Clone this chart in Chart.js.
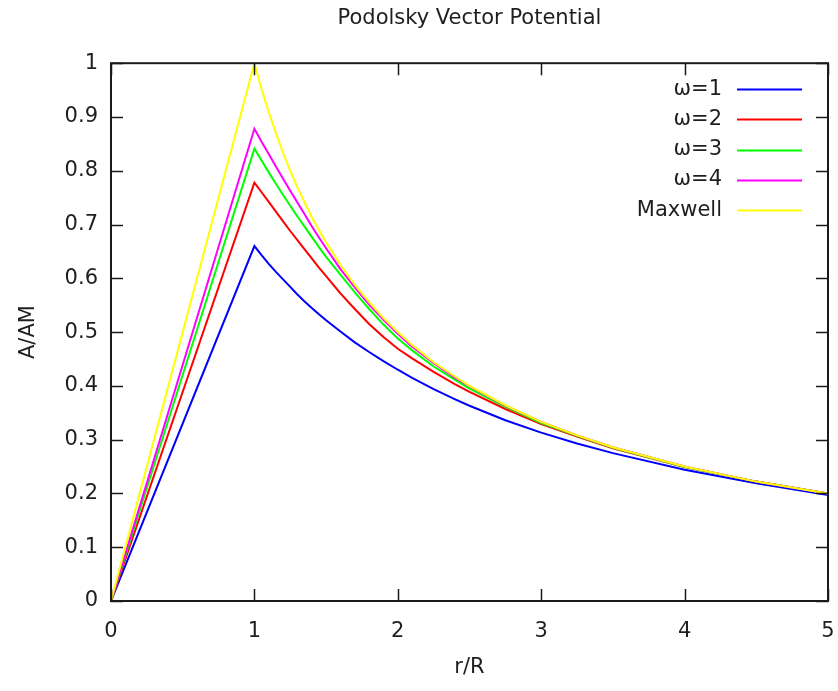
<!DOCTYPE html>
<html><head><meta charset="utf-8">
<script src="https://cdn.jsdelivr.net/npm/chart.js@4.4.1/dist/chart.umd.min.js"></script>
<style>html,body{margin:0;padding:0;background:#fff;} #wrap{width:838px;height:691px;position:relative;}</style>
</head><body><div id="wrap"><canvas id="c" width="838" height="691"></canvas></div>
<script>
// ---- data ----
const chartTitle = 'Podolsky Vector Potential';
const xTitle = 'r/R';
const yTitle = 'A/AM';
const seriesLabels = ['ω=1', 'ω=2', 'ω=3', 'ω=4', 'Maxwell'];
const rValues = [0, 1, 1.05, 1.1, 1.15, 1.2, 1.25, 1.3, 1.35, 1.4, 1.45, 1.5, 1.6, 1.7, 1.8, 1.9, 2.0, 2.1, 2.25, 2.4, 2.5, 2.75, 3, 3.25, 3.5, 4, 4.5, 5];
const omega1  = [0, 0.660, 0.643, 0.627, 0.612, 0.598, 0.584, 0.570, 0.557, 0.545, 0.533, 0.522, 0.501, 0.481, 0.463, 0.446, 0.430, 0.415, 0.394, 0.375, 0.363, 0.336, 0.313, 0.293, 0.275, 0.244, 0.219, 0.197];
const omega2  = [0, 0.778, 0.760, 0.742, 0.724, 0.706, 0.688, 0.671, 0.654, 0.637, 0.620, 0.604, 0.572, 0.543, 0.515, 0.491, 0.469, 0.451, 0.426, 0.403, 0.389, 0.357, 0.329, 0.306, 0.284, 0.249, 0.222, 0.200];
const omega3  = [0, 0.841, 0.819, 0.797, 0.776, 0.755, 0.735, 0.715, 0.696, 0.677, 0.658, 0.640, 0.607, 0.574, 0.543, 0.514, 0.488, 0.466, 0.436, 0.411, 0.395, 0.361, 0.331, 0.307, 0.285, 0.249, 0.222, 0.200];
const omega4  = [0, 0.878, 0.854, 0.831, 0.808, 0.785, 0.763, 0.741, 0.719, 0.697, 0.676, 0.656, 0.617, 0.583, 0.551, 0.523, 0.497, 0.473, 0.442, 0.415, 0.399, 0.363, 0.333, 0.308, 0.286, 0.250, 0.222, 0.200];
const maxwell = [0, 1.000, 0.952, 0.909, 0.870, 0.833, 0.800, 0.769, 0.741, 0.714, 0.690, 0.667, 0.625, 0.588, 0.556, 0.526, 0.500, 0.476, 0.444, 0.417, 0.400, 0.364, 0.333, 0.308, 0.286, 0.250, 0.222, 0.200];
const xTickValues = [0, 1, 2, 3, 4, 5];
const yTickValues = [0, 0.1, 0.2, 0.3, 0.4, 0.5, 0.6, 0.7, 0.8, 0.9, 1];
const yTickLabels = ['0', '0.1', '0.2', '0.3', '0.4', '0.5', '0.6', '0.7', '0.8', '0.9', '1'];
const xTickLabels = ['0', '1', '2', '3', '4', '5'];

// ---- styling ----
const seriesValues = [omega1, omega2, omega3, omega4, maxwell];
const colors = ['#0000ff', '#ff0000', '#00ff00', '#ff00ff', '#ffff00'];
const FONT = 'DejaVu Sans';
const FS = 21;
const TEXT = '#1e1e1e';
Chart.defaults.font.family = FONT;
Chart.defaults.font.size = FS;
Chart.defaults.color = TEXT;

const datasets = seriesValues.map((vals, i) => ({
  label: seriesLabels[i],
  data: rValues.map((r, j) => ({x: r, y: vals[j]})),
  borderColor: colors[i],
  backgroundColor: colors[i],
  borderWidth: 2,
  pointRadius: 0,
  tension: 0,
  fill: false,
  order: seriesValues.length - i
}));

const framePlugin = {
  id: 'frame',
  afterDatasetsDraw(chart) {
    const {ctx, chartArea: a, scales: {x, y}} = chart;
    const tl = 12;
    ctx.save();
    ctx.strokeStyle = '#1a1a1a';
    ctx.lineWidth = 1.5;
    ctx.beginPath();
    xTickValues.forEach(v => {
      const px = Math.round(x.getPixelForValue(v)) + 0.5;
      ctx.moveTo(px, a.bottom); ctx.lineTo(px, a.bottom - tl);
      ctx.moveTo(px, a.top); ctx.lineTo(px, a.top + tl);
    });
    yTickValues.forEach(v => {
      const py = Math.round(y.getPixelForValue(v)) + 0.5;
      ctx.moveTo(a.left, py); ctx.lineTo(a.left + tl, py);
      ctx.moveTo(a.right, py); ctx.lineTo(a.right - tl, py);
    });
    ctx.stroke();
    ctx.lineWidth = 2;
    ctx.strokeRect(a.left, a.top, a.right - a.left, a.bottom - a.top);
    // key (gnuplot style: text then line sample)
    ctx.font = FS + 'px ' + FONT;
    ctx.textAlign = 'right';
    ctx.textBaseline = 'middle';
    chart.data.datasets.forEach((ds, i) => {
      const yy = a.top + 26 + i * 30.25;
      ctx.fillStyle = TEXT;
      ctx.fillText(ds.label, a.right - 106, yy);
      ctx.strokeStyle = ds.borderColor;
      ctx.lineWidth = 2;
      ctx.beginPath();
      ctx.moveTo(a.right - 91, Math.round(yy) + 0.5);
      ctx.lineTo(a.right - 26, Math.round(yy) + 0.5);
      ctx.stroke();
    });
    ctx.restore();
  }
};

new Chart(document.getElementById('c'), {
  type: 'line',
  data: {datasets},
  plugins: [framePlugin],
  options: {
    responsive: false,
    animation: false,
    events: [],
    layout: {padding: {left: 0, right: 10, top: 0, bottom: 0}},
    plugins: {
      legend: {display: false},
      tooltip: {enabled: false},
      title: {
        display: true, text: chartTitle, fullSize: false,
        font: {size: FS, weight: 'normal', family: FONT},
        color: TEXT,
        padding: {top: 6, bottom: 32}
      }
    },
    scales: {
      x: {
        type: 'linear', min: 0, max: 5,
        grid: {display: false, drawTicks: false},
        border: {display: false},
        afterBuildTicks: s => { s.ticks = xTickValues.map(v => ({value: v})); },
        ticks: {padding: 18, font: {size: FS}, color: TEXT, maxRotation: 0,
                callback: (v, i) => xTickLabels[i]},
        title: {display: true, text: xTitle, font: {size: FS}, color: TEXT, padding: 11},
        afterFit: s => { s.height = 90; s.paddingLeft = 0; s.paddingRight = 0; }
      },
      y: {
        type: 'linear', min: 0, max: 1,
        grid: {display: false, drawTicks: false},
        border: {display: false},
        afterBuildTicks: s => { s.ticks = yTickValues.map(v => ({value: v})); },
        ticks: {padding: 13, font: {size: FS}, color: TEXT,
                callback: (v, i) => yTickLabels[i]},
        title: {display: true, text: yTitle, font: {size: FS}, color: TEXT, padding: 16},
        afterFit: s => { s.width = 111; }
      }
    }
  }
});
</script>
</body></html>
